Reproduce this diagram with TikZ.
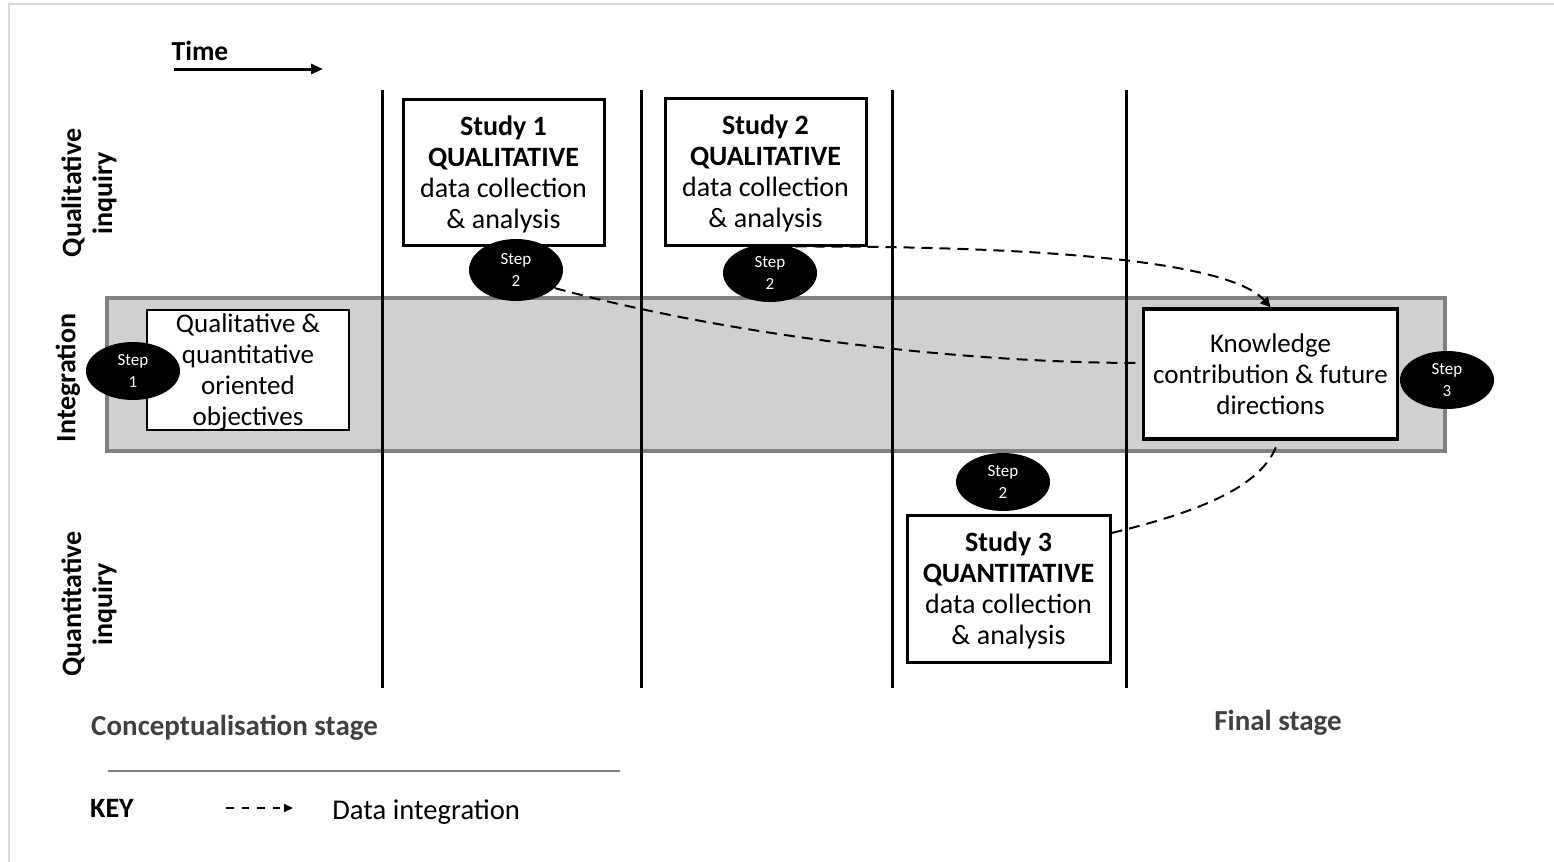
\documentclass[tikz,border=0pt]{standalone}
\usepackage{fontspec}
\setmainfont{Carlito}
\usetikzlibrary{arrows.meta,shapes.geometric,calc}
\definecolor{bandfill}{HTML}{D0D0D0}
\definecolor{bandline}{HTML}{808080}
\definecolor{stagegray}{HTML}{404040}
\definecolor{framegray}{HTML}{D9D9D9}
\begin{document}
\begin{tikzpicture}[x=0.5pt,y=-0.5pt,
  box/.style={draw=black,line width=1.5pt,fill=white,align=center,inner sep=0pt,text depth=0pt,font=\fontsize{13.5}{15.5}\selectfont},
  stepnode/.style={ellipse,fill=black,text=white,minimum width=47pt,minimum height=29pt,inner sep=0pt,align=center,font=\fontsize{8.5}{11}\selectfont},
  sidelabel/.style={rotate=90,align=center,font=\fontsize{14}{15.5}\selectfont\bfseries},
  phase/.style={line width=1.5pt},
  integ/.style={dash pattern=on 5.5pt off 3.5pt,line width=1pt},
  plain/.style={inner sep=0pt,font=\fontsize{14.3}{16}\selectfont},
  stage/.style={inner sep=0pt,text=stagegray,font=\fontsize{14.5}{16}\selectfont\bfseries}
]
\useasboundingbox (0,0) rectangle (1554,862);
% faint frame
\draw[framegray,line width=0.6pt] (9,862) -- (9,4) -- (1554,4);

% integration band
\draw[fill=bandfill,draw=bandline,line width=2pt] (107,298) rectangle (1445,451);

% phase lines
\foreach \x in {382,641,892,1126}
  \draw[phase] (\x,90) -- (\x,688);

% time
\node[plain,font=\fontsize{13.8}{15.5}\selectfont\bfseries] (time) at (200,51) {Time};
\coordinate (t0) at (174,69);
\coordinate (t1) at (323,69);
\draw[line width=1.5pt,-{Triangle[length=6pt,width=5pt]}] (t0) -- (t1);

% side labels
\node[sidelabel] (qual) at (89,193) {Qualitative\\inquiry};
\node[sidelabel] (integ) at (68,378) {Integration};
\node[sidelabel] (quant) at (89,604) {Quantitative\\inquiry};

% boxes
\node[box,line width=0.75pt,minimum width=101pt,minimum height=60pt] (obj) at (248,370)
  {Qualitative \&\\quantitative\\oriented\\objectives};
\node[box,font=\fontsize{14}{15.5}\selectfont,minimum width=100.5pt,minimum height=73pt] (s1) at (503.5,172)
  {\textbf{Study 1}\\\textbf{QUALITATIVE}\\data collection\\\& analysis};
\node[box,font=\fontsize{14}{15.5}\selectfont,minimum width=100.5pt,minimum height=73.5pt] (s2) at (765.5,171.5)
  {\textbf{Study 2}\\\textbf{QUALITATIVE}\\data collection\\\& analysis};
\node[box,font=\fontsize{14}{15.5}\selectfont,minimum width=101.5pt,minimum height=73.5pt] (s3) at (1008.5,588.5)
  {\textbf{Study 3}\\\textbf{QUANTITATIVE}\\data collection\\\& analysis};
\node[box,line width=1.75pt,minimum width=127pt,minimum height=65pt] (know) at (1270.5,374)
  {Knowledge\\contribution \& future\\directions};

% steps
\node[stepnode] (st1) at (133,371) {Step\\1};
\node[stepnode,minimum height=31pt] (st2a) at (516,270) {Step\\2};
\node[stepnode] (st2b) at (770,273) {Step\\2};
\node[stepnode] (st2c) at (1003,482) {Step\\2};
\node[stepnode] (st3) at (1447,380) {Step\\3};

% data integration connectors
\draw[integ] (st2a.-25) .. controls (720,333) and (950,363) .. ([yshift=5.5pt]know.west);
\draw[integ,-{Triangle[length=5pt,width=5pt]}] ([xshift=15pt]s2.south) .. controls (1050,246) and (1230,262) .. (know.north);
\draw[integ] ([yshift=27.75pt]s3.east) .. controls (1185,515) and (1265,490) .. ([xshift=3.75pt]know.south);

% stages
\node[stage] (concept) at (234.5,728) {Conceptualisation stage};
\node[stage] (final) at (1278,723) {Final stage};

% key
\coordinate (k0) at (108,771);
\coordinate (k1) at (620,771);
\draw[bandline,line width=1pt] (k0) -- (k1);
\node[plain,font=\fontsize{14}{16}\selectfont\bfseries] (key) at (112,808) {KEY};
\coordinate (a0) at (226,808);
\coordinate (a1) at (293,808);
\draw[line width=1pt,dash pattern=on 3.75pt off 4pt,-{Triangle[length=4.5pt,width=4pt]}] (a0) -- (a1);
\node[plain,anchor=west] (dint) at (332,812) {Data integration};
\end{tikzpicture}
\end{document}
